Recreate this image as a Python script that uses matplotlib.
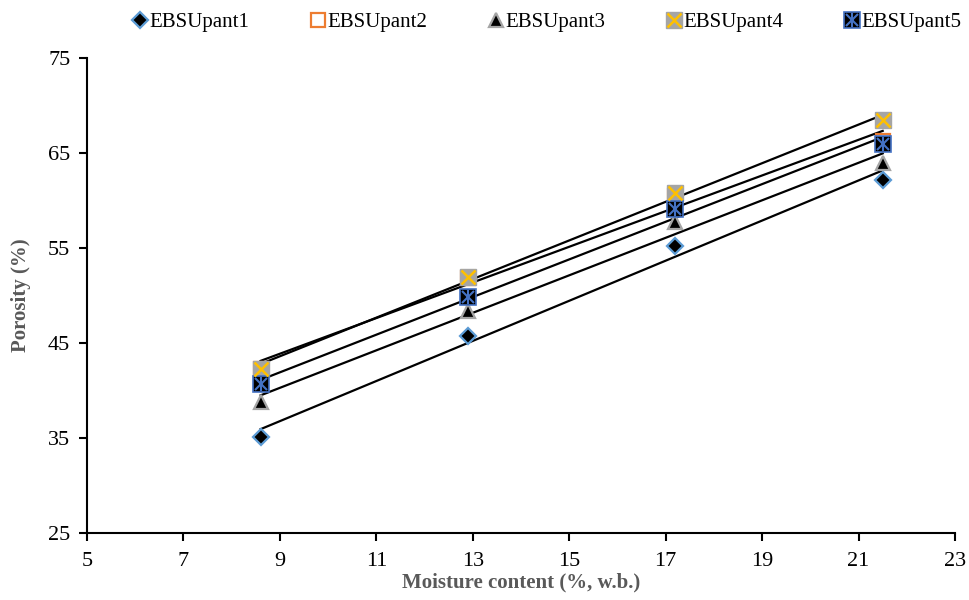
import numpy as np
import matplotlib
matplotlib.use("Agg")
import matplotlib.pyplot as plt
from matplotlib.legend_handler import HandlerTuple

plt.rcParams['font.family'] = ['Liberation Serif', 'DejaVu Serif']

# moisture content (% w.b.)
moisture = [8.6, 12.9, 17.2, 21.5]

# porosity (%) for each variety
pant1 = [35.1, 45.7, 55.2, 62.2]
pant2 = [42.3, 51.8, 60.5, 66.3]
pant3 = [38.8, 48.4, 57.7, 64.0]
pant4 = [42.3, 52.0, 60.8, 68.5]
pant5 = [40.7, 49.8, 59.1, 66.0]

names = ["EBSUpant1", "EBSUpant2", "EBSUpant3", "EBSUpant4", "EBSUpant5"]
series = [pant1, pant2, pant3, pant4, pant5]

fig = plt.figure(figsize=(9.69, 6), dpi=100)
ax = fig.add_axes([0.0898, 0.1117, 0.8958, 0.7916])

x = np.array(moisture)

# linear trendlines first (drawn under markers)
for y in series:
    k, b = np.polyfit(x, y, 1)
    ax.plot(x, k * x + b, color='black', lw=1.6, zorder=2)

handles = []
h1, = ax.plot(x, pant1, ls='none', marker='D', ms=8, mfc='black', mec='#5B9BD5', mew=1.6, zorder=3)
handles.append(h1)
h2, = ax.plot(x, pant2, ls='none', marker='s', ms=10, mfc='white', mec='#ED7D31', mew=1.6, zorder=3)
handles.append(h2)
h3, = ax.plot(x, pant3, ls='none', marker='^', ms=10, mfc='black', mec='#A5A5A5', mew=1.6, zorder=3)
handles.append(h3)
h4a, = ax.plot(x, pant4, ls='none', marker='s', ms=11, mfc='#A5A5A5', mec='#A5A5A5', zorder=3)
h4b, = ax.plot(x, pant4, ls='none', marker='x', ms=10, mec='#FFC000', mew=1.8, zorder=4)
handles.append((h4a, h4b))
h5a, = ax.plot(x, pant5, ls='none', marker='s', ms=11, mfc='black', mec='#4472C4', mew=1.2, zorder=3)
h5b, = ax.plot(x, pant5, ls='none', marker='x', ms=9, mec='#4472C4', mew=1.5, zorder=4)
h5c, = ax.plot(x, pant5, ls='none', marker='|', ms=10, mec='#4472C4', mew=1.5, zorder=4)
handles.append((h5a, h5b, h5c))

ax.set_xlim(5, 23)
ax.set_ylim(25, 75)
ax.set_xticks(range(5, 24, 2))
ax.set_yticks(range(25, 76, 10))

for s in ['top', 'right']:
    ax.spines[s].set_visible(False)
for s in ['left', 'bottom']:
    ax.spines[s].set_linewidth(1.5)
ax.tick_params(direction='out', length=6, width=1.5, labelsize=16)
ax.tick_params(axis='y', pad=6)
ax.tick_params(axis='x', pad=8)

ax.set_xlabel('Moisture content (%, w.b.)', fontsize=15, fontweight='bold', color='#595959', labelpad=1)
ax.set_ylabel('Porosity (%)', fontsize=15, fontweight='bold', color='#595959', labelpad=12)

fig.legend(handles, names, loc='upper center', bbox_to_anchor=(0.565, 1.01), ncol=5,
           frameon=False, fontsize=15, handlelength=0.6, handletextpad=0.15, columnspacing=3.0,
           handler_map={tuple: HandlerTuple(ndivide=1)})

fig.savefig('out.png', dpi=100)
